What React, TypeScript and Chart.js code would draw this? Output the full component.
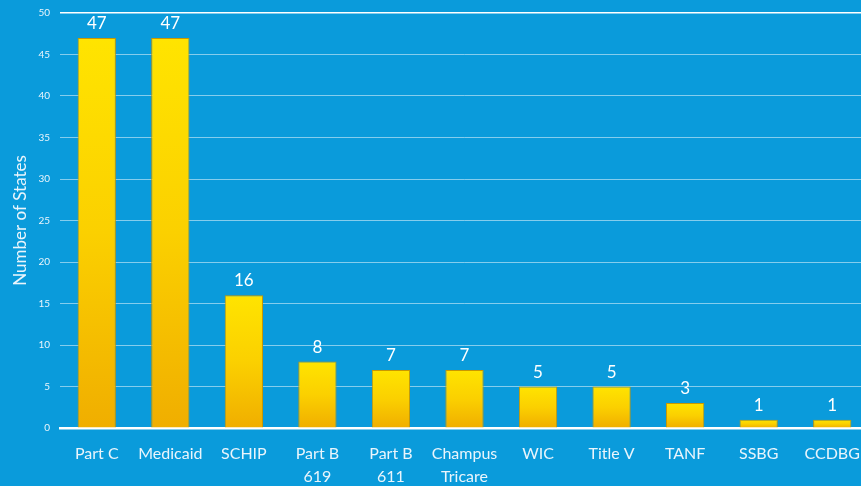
import React, { useEffect, useRef } from "react";
import { Chart, registerables } from "chart.js";

Chart.register(...registerables);

const categories: (string | string[])[] = [
  "Part C",
  "Medicaid",
  "SCHIP",
  ["Part B", "619"],
  ["Part B", "611"],
  ["Champus", "Tricare"],
  "WIC",
  "Title V",
  "TANF",
  "SSBG",
  "CCDBG",
];
const states: number[] = [47, 47, 16, 8, 7, 7, 5, 5, 3, 1, 1];
const yTicksMax = 50;
const yStep = 5;
const yTitle = "Number of States";

const FONT = "Lato, 'Open Sans', sans-serif";
const BG = "#0a9bdb";

const labelPlugin = {
  id: "barLabels",
  afterDatasetsDraw(chart: any) {
    const ctx = chart.ctx;
    const meta = chart.getDatasetMeta(0);
    ctx.save();
    ctx.fillStyle = "#ffffff";
    ctx.font = `17px ${FONT}`;
    ctx.textAlign = "center";
    ctx.textBaseline = "alphabetic";
    meta.data.forEach((bar: any, i: number) => {
      ctx.fillText(String(states[i]), bar.x, bar.y - 9);
    });
    ctx.restore();
  },
};

export default function App() {
  const ref = useRef<HTMLCanvasElement | null>(null);

  useEffect(() => {
    document.body.style.margin = "0";
    document.body.style.background = BG;
    const canvas = ref.current!;
    const chart = new Chart(canvas, {
      type: "bar",
      data: {
        labels: categories,
        datasets: [
          {
            data: states,
            backgroundColor: (c: any) => {
              const ch = c.chart;
              const ys = ch.scales && ch.scales.y;
              if (!ys || c.raw == null) return "#f8c800";
              const top = ys.getPixelForValue(c.raw);
              const bottom = ys.getPixelForValue(0);
              if (!isFinite(top) || !isFinite(bottom) || top === bottom) return "#ffd800";
              const g = ch.ctx.createLinearGradient(0, top, 0, bottom);
              g.addColorStop(0, "#ffe400");
              g.addColorStop(0.5, "#fbd000");
              g.addColorStop(1, "#f0ae00");
              return g;
            },
            borderColor: "#c99700",
            borderWidth: 1,
            barPercentage: 0.52,
            categoryPercentage: 1,
          },
        ],
      },
      options: {
        animation: false,
        responsive: false,
        layout: { padding: { top: 13, left: 0, right: 0, bottom: 0 } },
        plugins: {
          legend: { display: false },
          tooltip: { enabled: false },
        },
        scales: {
          x: {
            grid: { display: false },
            border: { display: true, color: "#ffffff", width: 2.5 },
            ticks: {
              color: "#eaf5fc",
              font: { family: FONT, size: 16, lineHeight: 1.4 },
              padding: 7,
              maxRotation: 0,
              autoSkip: false,
            },
            afterFit: (s: any) => {
              s.height = 58;
              s.paddingLeft = 0;
              s.paddingRight = 0;
            },
          },
          y: {
            min: 0,
            max: yTicksMax,
            ticks: {
              stepSize: yStep,
              color: "#eaf5fc",
              font: { family: FONT, size: 10 },
              padding: 10,
            },
            grid: {
              drawTicks: false,
              color: (c: any) =>
                c.tick && (c.tick.value === 50 || c.tick.value === 0)
                  ? "#ffffff"
                  : "rgba(255,255,255,0.5)",
              lineWidth: (c: any) => (c.tick && c.tick.value === 50 ? 1.5 : 1),
            },
            border: { display: false },
            title: {
              display: true,
              text: yTitle,
              color: "#eaf5fc",
              font: { family: FONT, size: 17 },
              padding: { top: 10, bottom: 0 },
            },
            afterFit: (s: any) => {
              s.width = 60;
              s.paddingTop = 0;
              s.paddingBottom = 0;
            },
          },
        },
      },
      plugins: [labelPlugin],
    });
    return () => chart.destroy();
  }, []);

  return (
    <div
      style={{
        position: "fixed",
        left: 0,
        top: 0,
        width: 861,
        height: 486,
        overflow: "hidden",
        background: BG,
      }}
    >
      <canvas ref={ref} width={869} height={486} style={{ display: "block" }} />
    </div>
  );
}
